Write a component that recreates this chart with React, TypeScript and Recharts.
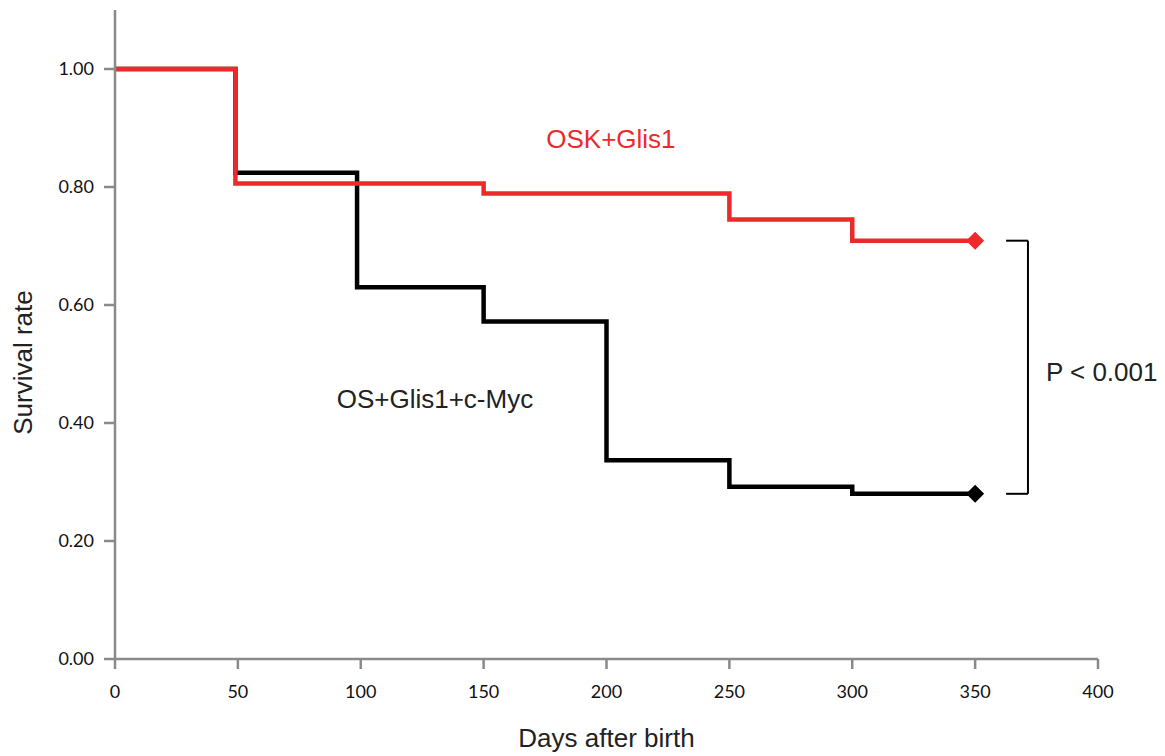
import { LineChart, Line, XAxis, YAxis, ReferenceLine, ReferenceDot } from 'recharts'

// Kaplan-Meier style survival steps
const oskGlis1 = [
  { day: 0, rate: 1.0 },
  { day: 49, rate: 0.806 },
  { day: 150, rate: 0.789 },
  { day: 250, rate: 0.745 },
  { day: 300, rate: 0.709 },
  { day: 350, rate: 0.709 },
]

const osGlis1Myc = [
  { day: 0, rate: 1.0 },
  { day: 49, rate: 0.824 },
  { day: 98.5, rate: 0.63 },
  { day: 150, rate: 0.572 },
  { day: 200, rate: 0.337 },
  { day: 250, rate: 0.292 },
  { day: 300, rate: 0.28 },
  { day: 350, rate: 0.28 },
]

const xTicks = [0, 50, 100, 150, 200, 250, 300, 350, 400]
const yTicks = [0, 0.2, 0.4, 0.6, 0.8, 1.0]

const RED = '#ed2a2a'
const AXIS = '#8a8a8a'
const TICK_FONT = 'Lato, sans-serif'
const LABEL_FONT = '"Liberation Sans", Arial, sans-serif'

// bracket for the p-value, in data units
const bracketX = [362.6, 371.5]
const bracketY = [0.709, 0.28]

function endDiamond(color: string, count: number) {
  return (props: any) => {
    const { cx, cy, index } = props
    if (index !== count - 1 || cx == null) return <g key={`d-${index}`} />
    const s = 9
    return (
      <path
        key={`d-${index}`}
        d={`M${cx},${cy - s} L${cx + s},${cy} L${cx},${cy + s} L${cx - s},${cy} Z`}
        fill={color}
      />
    )
  }
}

export default function App() {
  return (
    <div style={{ position: 'absolute', left: 0, top: 0, background: '#fff' }}>
      <LineChart width={1165} height={756} margin={{ top: 10, right: 67, bottom: 0, left: 0 }}>
        <XAxis
          type="number"
          dataKey="day"
          domain={[0, 400]}
          ticks={xTicks}
          height={97}
          axisLine={{ stroke: AXIS, strokeWidth: 2.5 }}
          tickLine={{ stroke: AXIS, strokeWidth: 2.5 }}
          tickSize={10}
          tickMargin={16}
          tick={{ fill: '#111', fontSize: 18, fontFamily: TICK_FONT }}
          label={{
            content: (p: any) => {
              const vb = p.viewBox
              return (
                <text
                  x={vb.x + vb.width / 2}
                  y={vb.y + 88}
                  textAnchor="middle"
                  fill="#222"
                  fontSize={26}
                  fontFamily={LABEL_FONT}
                >
                  Days after birth
                </text>
              )
            },
          }}
        />
        <YAxis
          type="number"
          dataKey="rate"
          domain={[0, 1.1]}
          ticks={yTicks}
          width={115}
          axisLine={{ stroke: AXIS, strokeWidth: 2.5 }}
          tickLine={{ stroke: AXIS, strokeWidth: 2.5 }}
          tickSize={11}
          tickMargin={10}
          tickFormatter={(v: number) => v.toFixed(2)}
          tick={{ fill: '#111', fontSize: 18, fontFamily: TICK_FONT }}
          label={{
            content: (p: any) => {
              const vb = p.viewBox
              const x = vb.x + 32
              const y = vb.y + vb.height / 2 + 28
              return (
                <text
                  x={x}
                  y={y}
                  transform={`rotate(-90 ${x} ${y})`}
                  textAnchor="middle"
                  fill="#222"
                  fontSize={26}
                  fontFamily={LABEL_FONT}
                >
                  Survival rate
                </text>
              )
            },
          }}
        />

        <Line
          data={osGlis1Myc}
          dataKey="rate"
          type="stepAfter"
          stroke="#000"
          strokeWidth={4.5}
          dot={endDiamond('#000', osGlis1Myc.length)}
          activeDot={false}
          isAnimationActive={false}
        />
        <Line
          data={oskGlis1}
          dataKey="rate"
          type="stepAfter"
          stroke={RED}
          strokeWidth={4.5}
          dot={endDiamond(RED, oskGlis1.length)}
          activeDot={false}
          isAnimationActive={false}
        />

        <ReferenceLine
          segment={[{ x: bracketX[0], y: bracketY[0] }, { x: bracketX[1], y: bracketY[0] }]}
          stroke="#000"
          strokeWidth={2}
        />
        <ReferenceLine
          segment={[{ x: bracketX[1], y: bracketY[0] }, { x: bracketX[1], y: bracketY[1] }]}
          stroke="#000"
          strokeWidth={2}
        />
        <ReferenceLine
          segment={[{ x: bracketX[0], y: bracketY[1] }, { x: bracketX[1], y: bracketY[1] }]}
          stroke="#000"
          strokeWidth={2}
        />

        <ReferenceDot
          x={201.8}
          y={0.881}
          r={1}
          fill="none"
          stroke="none"
          label={{ value: 'OSK+Glis1', position: 'center', fill: RED, fontSize: 26, fontFamily: LABEL_FONT }}
        />
        <ReferenceDot
          x={130.2}
          y={0.441}
          r={1}
          fill="none"
          stroke="none"
          label={{ value: 'OS+Glis1+c-Myc', position: 'center', fill: '#222', fontSize: 26, fontFamily: LABEL_FONT }}
        />
        <ReferenceDot
          x={378.4}
          y={0.486}
          r={1}
          fill="none"
          stroke="none"
          label={{ value: 'P < 0.001', position: 'right', offset: 0, fill: '#222', fontSize: 26, fontFamily: LABEL_FONT }}
        />
      </LineChart>
    </div>
  )
}
